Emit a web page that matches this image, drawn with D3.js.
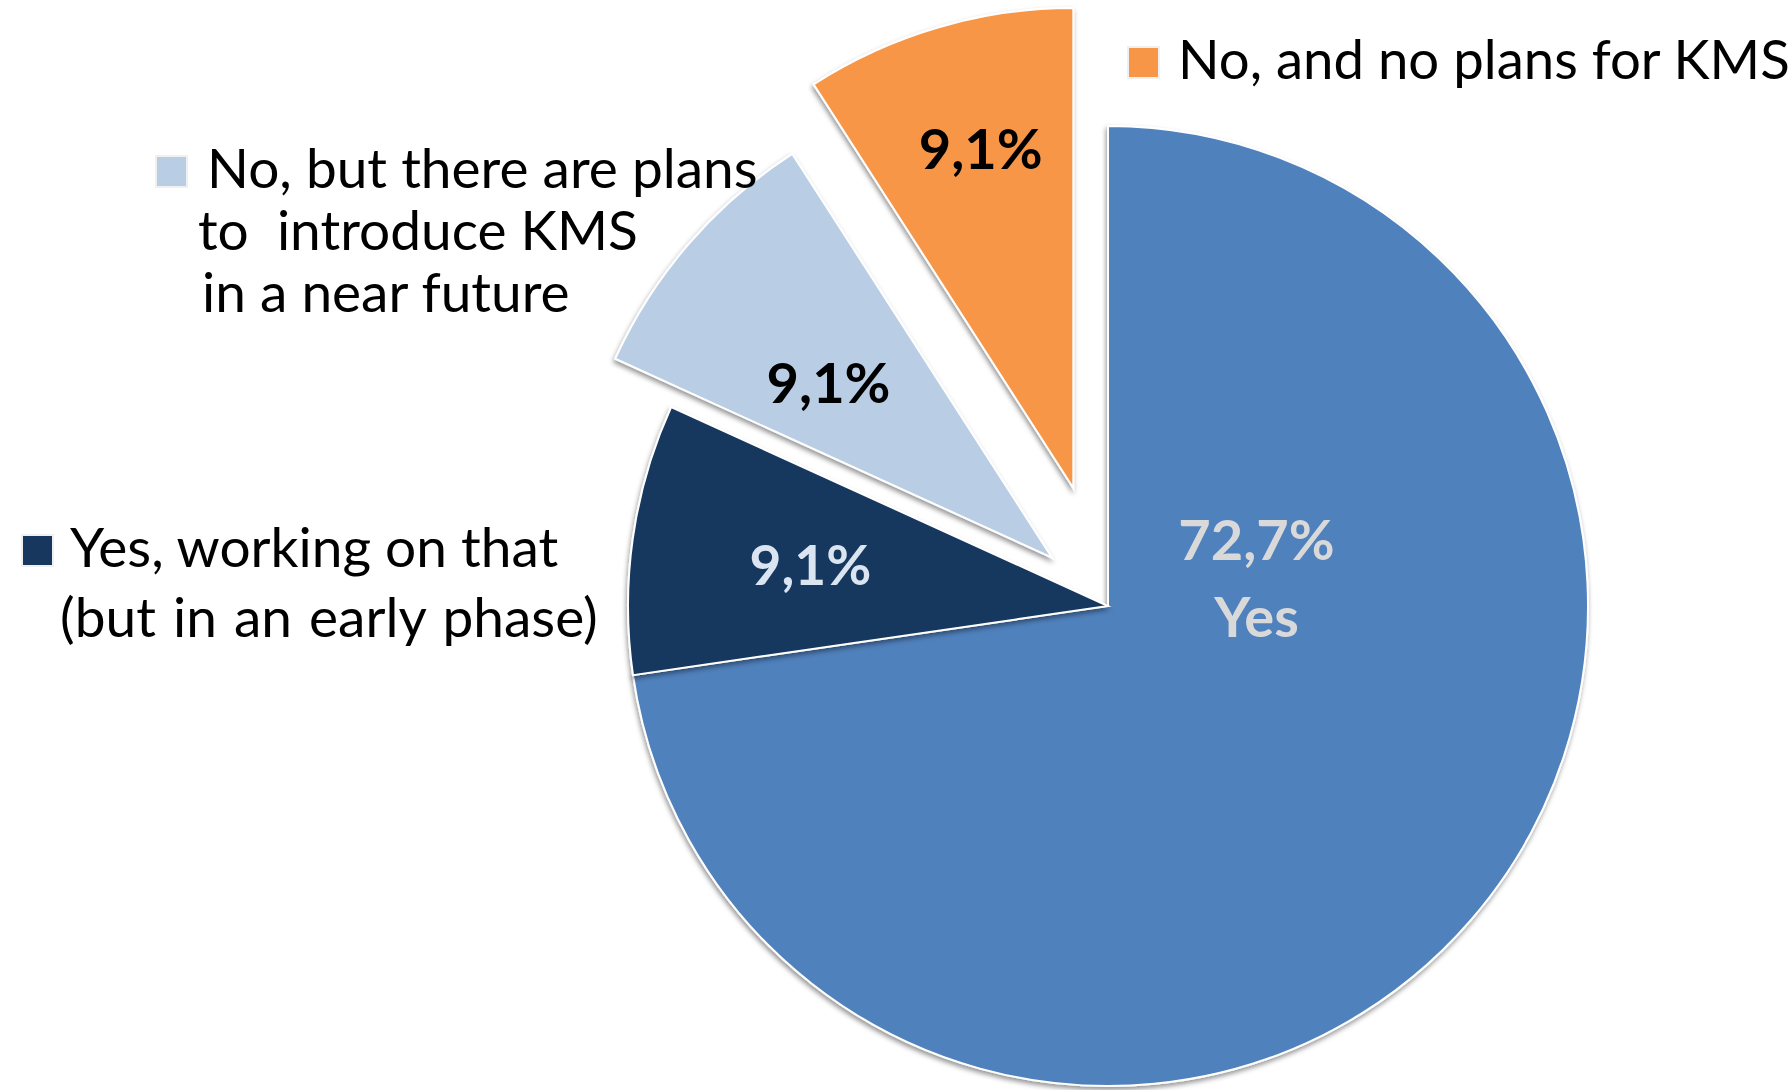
<!DOCTYPE html>
<html>
<head>
<meta charset="utf-8">
<script src="https://cdn.jsdelivr.net/npm/d3@7"></script>
<style>
  html, body { margin: 0; padding: 0; background: #ffffff; }
  svg { display: block; }
  text { font-family: Lato, "Open Sans", sans-serif; }
</style>
</head>
<body>
<svg id="chart" width="1790" height="1090"></svg>
<script>
// Survey answers, clockwise from 12 o'clock
const categories = [
  "Yes",
  "Yes, working on that (but in an early phase)",
  "No, but there are plans to introduce KMS in a near future",
  "No, and no plans for KMS"
];
const shares = [72.7, 9.1, 9.1, 9.1];
const valueLabels = ["72,7%", "9,1%", "9,1%", "9,1%"];
const sliceNames = ["Yes", "", "", ""];

// Legend text, one entry per line
const legendLines = [
  null,
  ["Yes, working on that", "(but in an early phase)"],
  ["No, but there are plans", "to  introduce KMS", "in a near future"],
  ["No, and no plans for KMS"]
];

// Appearance
const colors = ["#4f81bd", "#17375e", "#b9cde5", "#f79646"];
const labelColors = ["#d9d9d9", "#dbe5f1", "#000000", "#000000"];
const explode = [0, 0, 74, 123];
const cx = 1108, cy = 606, radius = 480;
// label nudges from each slice centroid: [dx, dy of first baseline]
const labelNudge = [[-33, -203], [-60, 13], [-42, 2], [-25, -89]];
const labelSizes = [56, 55, 56, 56];

// legend boxes: square position, font size and line anchors
const legendLayout = [
  null,
  { sx: 22, sy: 535, size: 55, lines: [[70, 567], [60, 637]], spacing: [0, 3] },
  { sx: 156, sy: 156, size: 55, lines: [[207, 188], [198, 250], [202, 312]], spacing: [0, 0, 0] },
  { sx: 1128, sy: 47, size: 54.5, lines: [[1178, 79]], spacing: [0] }
];

const svg = d3.select("#chart");

const defs = svg.append("defs");
const shadow = defs.append("filter")
  .attr("id", "sliceShadow")
  .attr("x", "-10%").attr("y", "-10%")
  .attr("width", "120%").attr("height", "120%");
shadow.append("feDropShadow")
  .attr("dx", -1).attr("dy", 3)
  .attr("stdDeviation", 2.4)
  .attr("flood-color", "#000")
  .attr("flood-opacity", 0.42);

const pie = d3.pie().sort(null).value(d => d).startAngle(0).endAngle(2 * Math.PI);
const arcs = pie(shares);
const arcGen = d3.arc().innerRadius(0).outerRadius(radius);

function offsetOf(a, i) {
  const mid = (a.startAngle + a.endAngle) / 2;
  return [Math.sin(mid) * explode[i], -Math.cos(mid) * explode[i]];
}

const g = svg.append("g").attr("transform", `translate(${cx},${cy})`);

g.selectAll("path.slice")
  .data(arcs)
  .join("path")
  .attr("class", "slice")
  .attr("transform", (d, i) => {
    const [ox, oy] = offsetOf(d, i);
    return `translate(${ox},${oy})`;
  })
  .attr("d", arcGen)
  .attr("fill", (d, i) => colors[i])
  .attr("stroke", "#ffffff")
  .attr("stroke-width", 2)
  .attr("stroke-linejoin", "miter")
  .attr("filter", "url(#sliceShadow)");

// value labels
arcs.forEach((d, i) => {
  const [ox, oy] = offsetOf(d, i);
  const [mx, my] = arcGen.centroid(d);
  const x = mx + ox + labelNudge[i][0];
  const y = my + oy + labelNudge[i][1];
  const t = g.append("text")
    .attr("text-anchor", "middle")
    .attr("font-weight", 700)
    .attr("font-size", labelSizes[i])
    .attr("fill", labelColors[i]);
  t.append("tspan").attr("x", x).attr("y", y).text(valueLabels[i]);
  if (sliceNames[i]) {
    t.append("tspan").attr("x", x).attr("y", y + 77).text(sliceNames[i]);
  }
});

// legend
const legend = svg.append("g");
legendLayout.forEach((L, i) => {
  if (!L) return;
  legend.append("rect")
    .attr("x", L.sx).attr("y", L.sy)
    .attr("width", 31).attr("height", 31)
    .attr("fill", colors[i])
    .attr("stroke", "#f0f0f0").attr("stroke-width", 2);
  legendLines[i].forEach((line, k) => {
    legend.append("text")
      .attr("x", L.lines[k][0]).attr("y", L.lines[k][1])
      .attr("font-size", L.size)
      .attr("word-spacing", L.spacing[k])
      .attr("fill", "#000")
      .style("white-space", "pre")
      .text(line);
  });
});
</script>
</body>
</html>
